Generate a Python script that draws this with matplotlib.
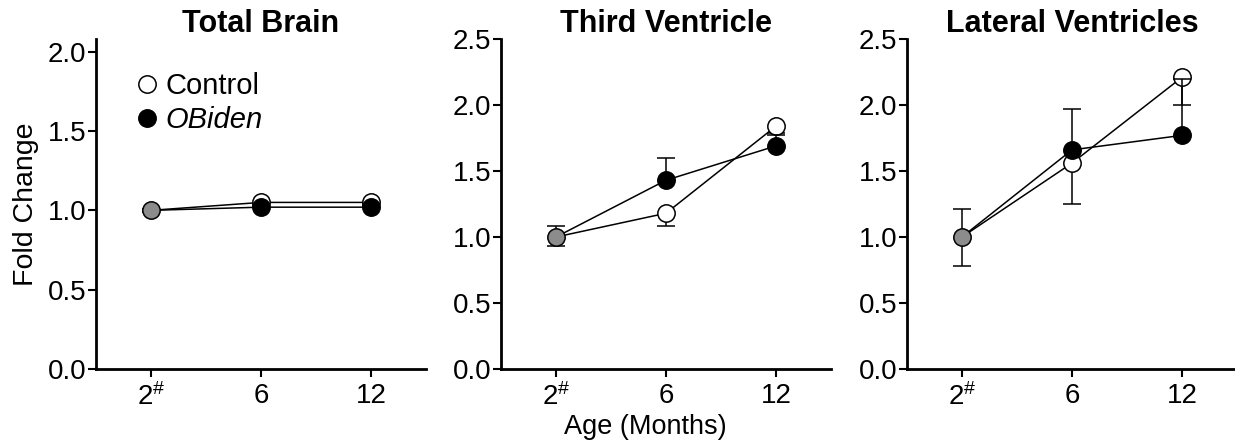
import matplotlib
matplotlib.use("Agg")
import matplotlib.pyplot as plt
from matplotlib.lines import Line2D

plt.rcParams['font.family'] = ['Liberation Sans', 'DejaVu Sans']
plt.rcParams['mathtext.fontset'] = 'custom'
plt.rcParams['mathtext.rm'] = 'Liberation Sans'
plt.rcParams['mathtext.it'] = 'Liberation Sans:italic'

# ---- data ----
categories = ['2$^{\\#}$', '6', '12']
titles = ['Total Brain', 'Third Ventricle', 'Lateral Ventricles']
ymax = [2.08, 2.5, 2.5]
yticks_list = [[0.0, 0.5, 1.0, 1.5, 2.0],
               [0.0, 0.5, 1.0, 1.5, 2.0, 2.5],
               [0.0, 0.5, 1.0, 1.5, 2.0, 2.5]]

control_brain = [1.00, 1.05, 1.05]
control_brain_err = [0.01, 0.01, 0.01]
obiden_brain = [1.00, 1.02, 1.02]
obiden_brain_err = [0.01, 0.01, 0.01]

control_third = [1.00, 1.18, 1.84]
control_third_err = [0.07, 0.10, 0.05]   # drawn downward
obiden_third = [1.00, 1.43, 1.69]
obiden_third_err = [0.08, 0.17, 0.08]    # drawn upward

control_lat = [1.00, 1.56, 2.21]
control_lat_err = [0.22, 0.31, 0.21]
obiden_lat = [1.00, 1.66, 1.77]
obiden_lat_err = [0.21, 0.31, 0.43]

panels = [
    (control_brain, control_brain_err, obiden_brain, obiden_brain_err),
    (control_third, control_third_err, obiden_third, obiden_third_err),
    (control_lat, control_lat_err, obiden_lat, obiden_lat_err),
]

W, H = 1235, 445
fig = plt.figure(figsize=(W / 100, H / 100), dpi=100)
lefts = [96, 501, 907]
ax_w, ax_top, ax_bot = 330, 39, 369

ms = 12.5
lw = 1.1
cap_ms = 13.5
x = list(range(len(categories)))


def one_sided(ax, xs, ys, errs, direction, z):
    zero = [0] * len(xs)
    yerr = [errs, zero] if direction < 0 else [zero, errs]
    ax.errorbar(xs, ys, yerr=yerr, fmt='none', ecolor='black', elinewidth=lw,
                capsize=0, zorder=z)
    ends = [y + direction * e for y, e in zip(ys, errs)]
    ax.plot(xs, ends, ls='none', marker='_', ms=cap_ms, mew=lw, color='black', zorder=z)


for i, (c, ce, o, oe) in enumerate(panels):
    ax = fig.add_axes([lefts[i] / W, 1 - ax_bot / H, ax_w / W, (ax_bot - ax_top) / H])
    # control: lower error bars
    one_sided(ax, x, c, ce, -1, 2)
    ax.plot(x, c, '-', color='black', lw=lw, zorder=2.5)
    ax.plot(x[1:], c[1:], 'o', ms=ms, mfc='white', mec='black', mew=1.1, zorder=3)
    # OBiden: upper error bars
    one_sided(ax, x, o, oe, +1, 4)
    ax.plot(x, o, '-', color='black', lw=lw, zorder=4)
    ax.plot(x[1:], o[1:], 'o', ms=ms, mfc='black', mec='black', mew=1.1, zorder=5)
    # shared baseline (gray)
    ax.plot(x[:1], c[:1], 'o', ms=ms, mfc='#8c8c8c', mec='black', mew=1.1, zorder=6)

    ax.set_xlim(-0.5, 2.5)
    ax.set_ylim(0, ymax[i])
    ax.set_xticks(x)
    ax.set_xticklabels(categories)
    ax.set_yticks(yticks_list[i])
    ax.set_yticklabels(['%.1f' % v for v in yticks_list[i]])
    for s in ['top', 'right']:
        ax.spines[s].set_visible(False)
    for s in ['left', 'bottom']:
        ax.spines[s].set_linewidth(2.0)
    ax.tick_params(axis='both', direction='out', length=6, width=1.5, labelsize=20)
    ax.tick_params(axis='y', pad=1)
    ax.tick_params(axis='x', pad=4)
    ax.set_title(titles[i], fontsize=22, fontweight='bold', pad=4)
    ax.patch.set_visible(False)

    if i == 0:
        ax.set_ylabel('Fold Change', fontsize=20.5, labelpad=6)
        handles = [Line2D([], [], ls='none', marker='o', ms=ms, mfc='white', mec='black', mew=1.1),
                   Line2D([], [], ls='none', marker='o', ms=ms, mfc='black', mec='black', mew=1.1)]
        leg = ax.legend(handles, ['Control', 'OBiden'], loc='upper left',
                        bbox_to_anchor=(0.11, 0.90), frameon=False, fontsize=21,
                        handlelength=1.0, handletextpad=0.15, labelspacing=0.2,
                        borderpad=0, borderaxespad=0)
        leg.get_texts()[1].set_style('italic')

fig.text(645 / W, 1 - 427 / H, 'Age (Months)', fontsize=19.5, ha='center', va='center')

fig.savefig('out.png', dpi=100)
